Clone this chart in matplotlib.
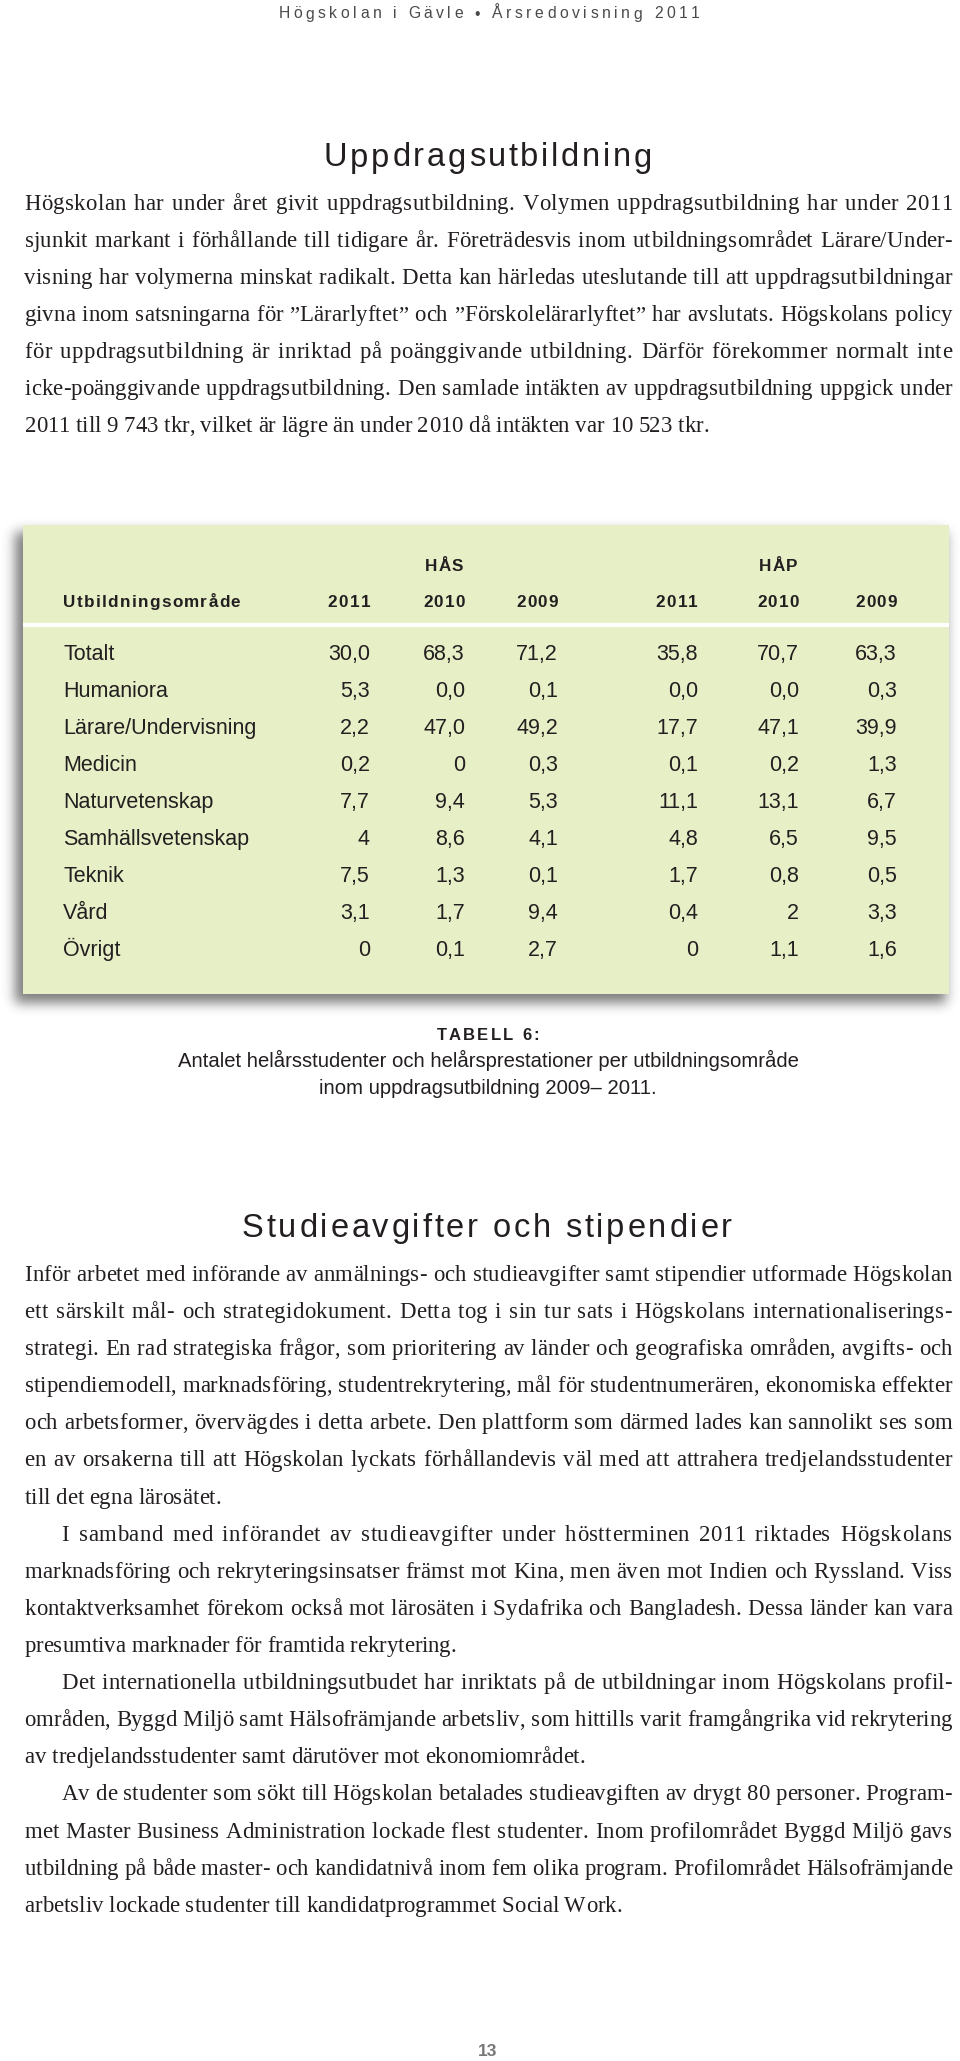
import matplotlib
matplotlib.use("Agg")
import matplotlib.pyplot as plt
import numpy as np
from matplotlib.font_manager import FontProperties
from matplotlib.patches import Rectangle


W, H = 960, 2061

HEADER = "Högskolan i Gävle • Årsredovisning 2011"
TITLE_1 = "Uppdragsutbildning"
TITLE_2 = "Studieavgifter och stipendier"

PARA_1 = [
    "Högskolan har under året givit uppdragsutbildning. Volymen uppdragsutbildning har under 2011",
    "sjunkit markant i förhållande till tidigare år. Företrädesvis inom utbildningsområdet Lärare/Under-",
    "visning har volymerna minskat radikalt. Detta kan härledas uteslutande till att uppdragsutbildningar",
    "givna inom satsningarna för ”Lärarlyftet” och ”Förskolelärarlyftet” har avslutats. Högskolans policy",
    "för uppdragsutbildning är inriktad på poänggivande utbildning. Därför förekommer normalt inte",
    "icke-poänggivande uppdragsutbildning. Den samlade intäkten av uppdragsutbildning uppgick under",
    "2011 till 9 743 tkr, vilket är lägre än under 2010 då intäkten var 10 523 tkr.",
]

PARA_2 = [
    "Inför arbetet med införande av anmälnings- och studieavgifter samt stipendier utformade Högskolan",
    "ett särskilt mål- och strategidokument. Detta tog i sin tur sats i Högskolans internationaliserings-",
    "strategi. En rad strategiska frågor, som prioritering av länder och geografiska områden, avgifts- och",
    "stipendiemodell, marknadsföring, studentrekrytering, mål för studentnumerären, ekonomiska effekter",
    "och arbetsformer, övervägdes i detta arbete. Den plattform som därmed lades kan sannolikt ses som",
    "en av orsakerna till att Högskolan lyckats förhållandevis väl med att attrahera tredjelandsstudenter",
    "till det egna lärosätet.",
]
PARA_3 = [
    "I samband med införandet av studieavgifter under höstterminen 2011 riktades Högskolans",
    "marknadsföring och rekryteringsinsatser främst mot Kina, men även mot Indien och Ryssland. Viss",
    "kontaktverksamhet förekom också mot lärosäten i Sydafrika och Bangladesh. Dessa länder kan vara",
    "presumtiva marknader för framtida rekrytering.",
]
PARA_4 = [
    "Det internationella utbildningsutbudet har inriktats på de utbildningar inom Högskolans profil-",
    "områden, Byggd Miljö samt Hälsofrämjande arbetsliv, som hittills varit framgångrika vid rekrytering",
    "av tredjelandsstudenter samt därutöver mot ekonomiområdet.",
]
PARA_5 = [
    "Av de studenter som sökt till Högskolan betalades studieavgiften av drygt 80 personer. Program-",
    "met Master Business Administration lockade flest studenter. Inom profilområdet Byggd Miljö gavs",
    "utbildning på både master- och kandidatnivå inom fem olika program. Profilområdet Hälsofrämjande",
    "arbetsliv lockade studenter till kandidatprogrammet Social Work.",
]

# table
GROUPS = ["HÅS", "HÅP"]
YEARS = ["2011", "2010", "2009", "2011", "2010", "2009"]
AREA_HEADER = "Utbildningsområde"
AREAS = ["Totalt", "Humaniora", "Lärare/Undervisning", "Medicin", "Naturvetenskap",
         "Samhällsvetenskap", "Teknik", "Vård", "Övrigt"]
HAS_2011 = ["30,0", "5,3", "2,2", "0,2", "7,7", "4", "7,5", "3,1", "0"]
HAS_2010 = ["68,3", "0,0", "47,0", "0", "9,4", "8,6", "1,3", "1,7", "0,1"]
HAS_2009 = ["71,2", "0,1", "49,2", "0,3", "5,3", "4,1", "0,1", "9,4", "2,7"]
HAP_2011 = ["35,8", "0,0", "17,7", "0,1", "11,1", "4,8", "1,7", "0,4", "0"]
HAP_2010 = ["70,7", "0,0", "47,1", "0,2", "13,1", "6,5", "0,8", "2", "1,1"]
HAP_2009 = ["63,3", "0,3", "39,9", "1,3", "6,7", "9,5", "0,5", "3,3", "1,6"]

CAPTION_HEAD = "TABELL 6:"
CAPTION = ["Antalet helårsstudenter och helårsprestationer per utbildningsområde",
           "inom uppdragsutbildning 2009– 2011."]
PAGE_NO = "13"

TEXT = "#231f20"
BOX = "#e7efc6"
SERIF = "Liberation Serif"
SANS = "Liberation Sans"


fig = plt.figure(figsize=(W / 100, H / 100), dpi=100)
ax = fig.add_axes([0, 0, 1, 1])
renderer = fig.canvas.get_renderer()

_adv_cache = {}


def width(s, prop):
    w, _, _ = renderer.get_text_width_height_descent(s, prop, ismath=False)
    return w


def advance(c, prop):
    key = (c, hash(prop))
    if key not in _adv_cache:
        _adv_cache[key] = width("x" + c + "x", prop) - width("xx", prop)
    return _adv_cache[key]


def put_chars(x, y, s, prop, tracking, color=TEXT, zorder=4):
    for c in s:
        if c != " ":
            ax.text(x, y, c, fontproperties=prop, color=color, va="baseline", ha="left", zorder=zorder)
        x += advance(c, prop) + tracking
    return x


def spaced_text(x, y, s, prop, tracking=0.0, ha="left", color=TEXT, fit=None):
    advs = [advance(c, prop) for c in s]
    if fit is not None:
        tracking = (fit - sum(advs)) / (len(s) - 1)
    total = sum(advs) + tracking * (len(s) - 1)
    if ha == "center":
        x -= total / 2
    elif ha == "right":
        x -= total
    put_chars(x, y, s, prop, tracking, color=color)


def body_lines(lines, y0, step, left, right, prop, indent=0):
    space = advance(" ", prop)
    for i, line in enumerate(lines):
        words = line.split(" ")
        x0 = left + (indent if i == 0 else 0)
        y = y0 + i * step
        glyphs = sum(advance(c, prop) for w in words for c in w)
        n_sp = len(words) - 1
        n_in = sum(len(w) - 1 for w in words)
        if i == len(lines) - 1 or n_sp == 0:
            track, gap = 0.0, space
        else:
            slack = (right - x0) - (glyphs + n_sp * space)
            track = float(np.clip(slack * 0.45 / n_in, -0.55, 0.7))
            gap = (right - x0 - glyphs - track * n_in) / n_sp
        x = x0
        for w in words:
            x = put_chars(x, y, w, prop, track) - track + gap
    return y0 + len(lines) * step


# page header and titles
spaced_text(489, 18.5, HEADER, FontProperties(family=SANS, size=11.3), ha="center", color="#4a4a4a", fit=421)
title_prop = FontProperties(family=SANS, size=23.5)
spaced_text(488, 166.5, TITLE_1, title_prop, ha="center", fit=328)
spaced_text(487, 1237, TITLE_2, title_prop, ha="center", fit=490)

# body text
body = FontProperties(family=SERIF, size=16.4)
LEFT, RIGHT, STEP, INDENT = 24.5, 952, 37.1, 37
body_lines(PARA_1, 209.5, STEP, LEFT, RIGHT, body)
y = body_lines(PARA_2, 1281, STEP, LEFT, RIGHT, body)
y = body_lines(PARA_3, y, STEP, LEFT, RIGHT, body, indent=INDENT)
y = body_lines(PARA_4, y, STEP, LEFT, RIGHT, body, indent=INDENT)
body_lines(PARA_5, y, STEP, LEFT, RIGHT, body, indent=INDENT)

# table box with a soft drop shadow
bx0, bx1, by0, by1 = 23, 949, 525, 994
pad = 40
sx0, sx1, sy0, sy1 = bx0 - pad, bx1 + pad, by0 - pad, by1 + pad
mask = np.zeros((sy1 - sy0, sx1 - sx0))
mask[by0 + 7 - sy0:by1 + 9 - sy0, bx0 - 8 - sx0:bx1 - 3 - sx0] = 1.0
kern = np.exp(-0.5 * (np.arange(-20, 21) / 6.0) ** 2)
kern /= kern.sum()
mask = np.apply_along_axis(lambda r: np.convolve(r, kern, mode="same"), 0, mask)
mask = np.apply_along_axis(lambda r: np.convolve(r, kern, mode="same"), 1, mask)
shadow = np.zeros(mask.shape + (4,))
shadow[..., :3] = 0.15
shadow[..., 3] = mask * 0.6
ax.imshow(shadow, extent=(sx0, sx1, sy1, sy0), zorder=1, interpolation="bilinear", aspect="auto")
ax.add_patch(Rectangle((bx0, by0), bx1 - bx0, by1 - by0, facecolor=BOX, edgecolor="none", zorder=2))
ax.plot([bx0, bx1], [625, 625], color="white", lw=3, solid_capstyle="butt", zorder=3)

head_prop = FontProperties(family=SANS, size=12.3, weight="bold")
cell_prop = FontProperties(family=SANS, size=15.5)
col_right = [370, 465, 558, 698, 799, 897]
group_center = [444, 778]
label_x = 63
for g, cx in zip(GROUPS, group_center):
    spaced_text(cx, 571, g, head_prop, 1.3, ha="center")
spaced_text(label_x, 607, AREA_HEADER, head_prop, 1.3)
for yr, xr in zip(YEARS, col_right):
    spaced_text(xr, 607, yr, head_prop, 1.3, ha="right")

columns = [HAS_2011, HAS_2010, HAS_2009, HAP_2011, HAP_2010, HAP_2009]
row_y0, row_step = 660, 37
for i, area in enumerate(AREAS):
    yy = row_y0 + i * row_step
    ax.text(label_x, yy, area, fontproperties=cell_prop, color=TEXT, va="baseline", zorder=4)
    for col, xr in zip(columns, col_right):
        ax.text(xr, yy, col[i], fontproperties=cell_prop, color=TEXT, va="baseline", ha="right", zorder=4)

# caption
spaced_text(488, 1040, CAPTION_HEAD, FontProperties(family=SANS, size=12, weight="bold"), 2.2, ha="center")
cap_prop = FontProperties(family=SANS, size=14.6)
for k, line in enumerate(CAPTION):
    ax.text(488, 1067 + k * 27.5, line, fontproperties=cap_prop, color=TEXT, va="baseline", ha="center")

ax.text(488, 2056, PAGE_NO, fontproperties=FontProperties(family=SANS, size=12.5, weight="bold"),
        color="#777777", va="baseline", ha="center")

ax.set_xlim(0, W)
ax.set_ylim(H, 0)
ax.axis("off")
fig.savefig("out.png", dpi=100, facecolor="white")
